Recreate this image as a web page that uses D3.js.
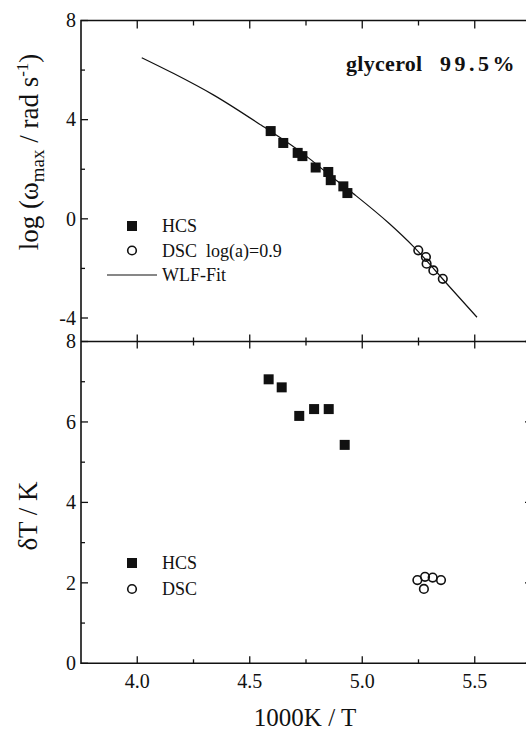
<!DOCTYPE html>
<html><head><meta charset="utf-8">
<script src="https://cdn.jsdelivr.net/npm/d3@7"></script>
<style>
html,body{margin:0;padding:0;background:#fff;}
svg, svg text{font-family:"Liberation Serif","Times New Roman",Times,serif;}
</style></head>
<body>
<svg id="c" width="526" height="731" font-family="Liberation Serif, serif"></svg>
<script>
// ---- data ----
const hcsTopX = [4.593, 4.649, 4.713, 4.734, 4.793, 4.849, 4.860, 4.916, 4.934];
const hcsTopY = [3.54, 3.06, 2.66, 2.53, 2.07, 1.89, 1.56, 1.31, 1.04];
const dscTopX = [5.249, 5.283, 5.286, 5.316, 5.358];
const dscTopY = [-1.27, -1.54, -1.81, -2.08, -2.42];
const wlfX = [4.02, 4.16, 4.34, 4.55, 4.75, 4.85, 4.96, 5.12, 5.23, 5.39, 5.51];
const wlfY = [6.50, 5.87, 4.99, 3.78, 2.54, 1.80, 1.02, -0.19, -1.14, -2.76, -3.97];
const hcsBotX = [4.584, 4.642, 4.720, 4.786, 4.851, 4.922];
const hcsBotY = [7.06, 6.86, 6.15, 6.32, 6.32, 5.43];
const dscBotX = [5.245, 5.279, 5.313, 5.350, 5.274];
const dscBotY = [2.07, 2.15, 2.13, 2.07, 1.85];
const xTicks = [4.0, 4.5, 5.0, 5.5];
const xMinor = [4.25, 4.75, 5.25];
const topYTicks = [8, 4, 0, -4];
const topYMinor = [6, 2, -2];
const botYTicks = [0, 2, 4, 6, 8];
const botYMinor = [1, 3, 5, 7];

const svg = d3.select("#c");
const L = 81, R = 531, T = 20.5, M = 341.5, B = 663.3;
const x = d3.scaleLinear().domain([3.75, 5.75]).range([L, R]);
const yT = d3.scaleLinear().domain([-4, 8]).range([318, T]);
const yB = d3.scaleLinear().domain([0, 8]).range([B, M]);
const ink = "#111";

const g = svg.append("g");
// frames
g.append("path").attr("d", `M${R},${T}H${L}V${B}H${R}`).attr("fill","none").attr("stroke",ink).attr("stroke-width",1.6);
g.append("line").attr("x1",L).attr("x2",R).attr("y1",M).attr("y2",M).attr("stroke",ink).attr("stroke-width",1.6);
g.append("line").attr("x1",R).attr("x2",R).attr("y1",T).attr("y2",B).attr("stroke",ink).attr("stroke-width",1.6);

function tick(x1,y1,x2,y2){ g.append("line").attr("x1",x1).attr("y1",y1).attr("x2",x2).attr("y2",y2).attr("stroke",ink).attr("stroke-width",1.3); }
// x ticks
xTicks.forEach(v=>{ const px=x(v); tick(px,T,px,T+8); tick(px,M-7,px,M+7); tick(px,B,px,B-7); });
xMinor.forEach(v=>{ const px=x(v); tick(px,T,px,T+5); tick(px,M-4,px,M+4); tick(px,B,px,B-4); });
// y ticks
topYTicks.forEach(v=>{ const py=yT(v); tick(L,py,L+7,py); });
topYMinor.forEach(v=>{ const py=yT(v); tick(L,py,L+4,py); });
botYTicks.forEach(v=>{ const py=yB(v); tick(L,py,L+7,py); tick(R,py,R-6,py); });
botYMinor.forEach(v=>{ const py=yB(v); tick(L,py,L+4,py); });

// tick labels
const tl = svg.append("g").attr("font-size",20).attr("fill",ink);
topYTicks.forEach(v=>{ tl.append("text").attr("x",L-5).attr("y",yT(v)).attr("dy","0.34em").attr("text-anchor","end").text(v<0?"-"+Math.abs(v):v); });
botYTicks.forEach(v=>{ tl.append("text").attr("x",L-5).attr("y",yB(v)).attr("dy","0.34em").attr("text-anchor","end").text(v); });
xTicks.forEach(v=>{ tl.append("text").attr("x",x(v)).attr("y",688).attr("text-anchor","middle").text(d3.format(".1f")(v)); });

// axis titles
svg.append("text").attr("x",305).attr("y",726).attr("text-anchor","middle").attr("font-size",25).attr("fill",ink).text("1000K / T");
const yl = svg.append("text").attr("transform","translate(38,152) rotate(-90)").attr("text-anchor","middle").attr("font-size",27).attr("fill",ink);
yl.append("tspan").text("log (ω");
yl.append("tspan").attr("font-size",19).attr("dy",6).text("max");
yl.append("tspan").attr("dy",-6).text(" / rad s");
yl.append("tspan").attr("font-size",17).attr("dy",-10).text("-1");
yl.append("tspan").attr("dy",10).text(")");
svg.append("text").attr("transform","translate(37,516) rotate(-90)").attr("text-anchor","middle").attr("font-size",27).attr("fill",ink).text("δT / K");

// title
svg.append("text").attr("x",346).attr("y",71).attr("font-size",22).attr("font-weight","bold").attr("letter-spacing",0.3).attr("fill",ink).text("glycerol");
svg.append("text").attr("x",440).attr("y",71).attr("font-size",22).attr("font-weight","bold").attr("letter-spacing",3.5).attr("fill",ink).text("99.5%");

// WLF line
const line = d3.line().x(d=>x(d[0])).y(d=>yT(d[1])).curve(d3.curveMonotoneX);
svg.append("path").datum(d3.zip(wlfX,wlfY)).attr("d",line).attr("fill","none").attr("stroke",ink).attr("stroke-width",1.2);

const S = 10;
function squares(xs,ys,ys_scale){
  svg.append("g").selectAll("rect").data(d3.zip(xs,ys)).join("rect")
    .attr("x",d=>x(d[0])-S/2).attr("y",d=>ys_scale(d[1])-S/2).attr("width",S).attr("height",S).attr("fill",ink);
}
function circles(xs,ys,ys_scale){
  svg.append("g").selectAll("circle").data(d3.zip(xs,ys)).join("circle")
    .attr("cx",d=>x(d[0])).attr("cy",d=>ys_scale(d[1])).attr("r",4.3).attr("fill","none").attr("stroke",ink).attr("stroke-width",1.6);
}
squares(hcsTopX,hcsTopY,yT);
circles(dscTopX,dscTopY,yT);
squares(hcsBotX,hcsBotY,yB);
circles(dscBotX,dscBotY,yB);

// legends
const lg = svg.append("g").attr("font-size",18).attr("fill",ink);
lg.append("rect").attr("x",132-S/2).attr("y",226-S/2).attr("width",S).attr("height",S).attr("fill",ink);
lg.append("text").attr("x",162).attr("y",232).text("HCS");
lg.append("circle").attr("cx",132).attr("cy",250.5).attr("r",4.3).attr("fill","none").attr("stroke",ink).attr("stroke-width",1.6);
lg.append("text").attr("x",162).attr("y",256.5).attr("xml:space","preserve").text("DSC  log(a)=0.9");
lg.append("line").attr("x1",107).attr("x2",157).attr("y1",275).attr("y2",275).attr("stroke",ink).attr("stroke-width",1.2);
lg.append("text").attr("x",162).attr("y",281).text("WLF-Fit");
lg.append("rect").attr("x",132-S/2).attr("y",563-S/2).attr("width",S).attr("height",S).attr("fill",ink);
lg.append("text").attr("x",162).attr("y",569).text("HCS");
lg.append("circle").attr("cx",132).attr("cy",589).attr("r",4.3).attr("fill","none").attr("stroke",ink).attr("stroke-width",1.6);
lg.append("text").attr("x",162).attr("y",595).text("DSC");
</script>
</body></html>
